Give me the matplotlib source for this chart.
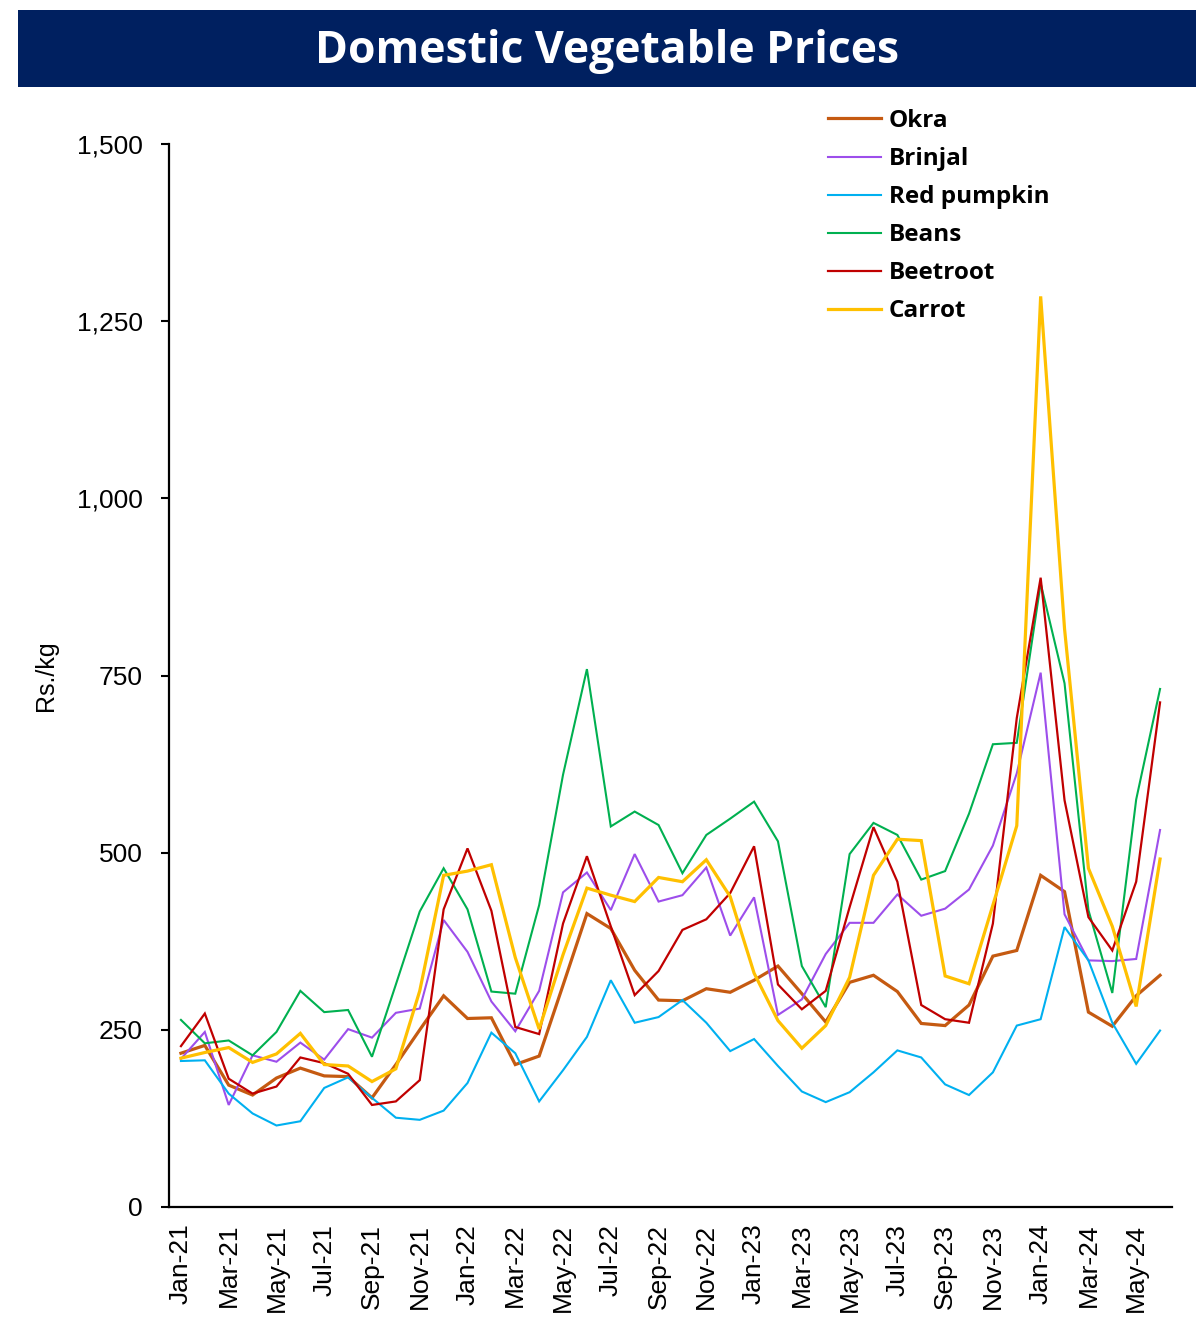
import matplotlib
matplotlib.use("Agg")
import matplotlib.pyplot as plt
from matplotlib.patches import Rectangle
from matplotlib.ticker import FuncFormatter

months = ["Jan-21", "Feb-21", "Mar-21", "Apr-21", "May-21", "Jun-21", "Jul-21", "Aug-21",
          "Sep-21", "Oct-21", "Nov-21", "Dec-21", "Jan-22", "Feb-22", "Mar-22", "Apr-22",
          "May-22", "Jun-22", "Jul-22", "Aug-22", "Sep-22", "Oct-22", "Nov-22", "Dec-22",
          "Jan-23", "Feb-23", "Mar-23", "Apr-23", "May-23", "Jun-23", "Jul-23", "Aug-23",
          "Sep-23", "Oct-23", "Nov-23", "Dec-23", "Jan-24", "Feb-24", "Mar-24", "Apr-24",
          "May-24", "Jun-24"]

okra = [217, 228, 172, 158, 182, 196, 185, 184, 154, 201, 250, 298, 266, 267, 201, 213,
        313, 414, 393, 334, 292, 291, 308, 303, 320, 340, 301, 261, 317, 327, 304, 259,
        256, 285, 354, 362, 468, 445, 275, 255, 298, 327]
brinjal = [209, 247, 144, 214, 205, 232, 208, 251, 239, 274, 280, 405, 360, 290, 248, 305,
           444, 472, 419, 498, 431, 440, 479, 383, 437, 271, 293, 357, 401, 401, 441, 411,
           421, 448, 510, 612, 754, 413, 348, 347, 350, 532]
red_pumpkin = [206, 207, 160, 132, 115, 121, 168, 183, 154, 126, 123, 136, 175, 246, 217, 149,
               193, 240, 320, 260, 268, 292, 260, 220, 237, 199, 163, 148, 162, 190, 221, 211,
               173, 158, 190, 256, 265, 395, 348, 260, 202, 249]
beans = [264, 231, 235, 214, 247, 305, 275, 278, 212, 314, 417, 478, 420, 304, 301, 426,
         610, 759, 537, 558, 539, 471, 525, 548, 572, 516, 340, 282, 498, 542, 525, 462,
         474, 555, 653, 655, 880, 739, 419, 302, 575, 731]
beetroot = [227, 273, 181, 160, 170, 211, 203, 188, 144, 149, 179, 420, 506, 418, 254, 244,
            400, 495, 396, 299, 333, 391, 406, 443, 509, 314, 279, 305, 423, 536, 459, 285,
            265, 260, 400, 690, 888, 574, 409, 362, 459, 712]
carrot = [210, 218, 225, 204, 216, 245, 201, 199, 177, 195, 305, 468, 474, 483, 352, 251,
          356, 450, 440, 431, 465, 459, 490, 438, 330, 263, 224, 256, 324, 468, 519, 517,
          326, 315, 426, 538, 1285, 816, 478, 396, 283, 491]

series_names = ["Okra", "Brinjal", "Red pumpkin", "Beans", "Beetroot", "Carrot"]
series_values = [okra, brinjal, red_pumpkin, beans, beetroot, carrot]
colors = ["#C55A11", "#9D4EEB", "#00B0F0", "#00B050", "#C00000", "#FFC000"]
widths = [2.3, 1.5, 1.5, 1.5, 1.6, 2.3]

y_ticks = [0, 250, 500, 750, 1000, 1250, 1500]

W, H = 1196, 1329
fig = plt.figure(figsize=(W / 100, H / 100), dpi=100)

# title banner
fig.patches.append(Rectangle((18 / W, 1 - 87 / H), 1 - 18 / W, 77 / H,
                             transform=fig.transFigure, facecolor="#002060",
                             edgecolor="none", zorder=0))
fig.text(607 / W, 1 - 51 / H, "Domestic Vegetable Prices", color="white",
         fontsize=32, fontweight="bold", family="Open Sans", ha="center", va="center")

ax = fig.add_axes([169 / W, 1 - 1207 / H, (1172 - 169) / W, (1207 - 144) / H])
x = list(range(len(months)))
for name, vals, c, lw in zip(series_names, series_values, colors, widths):
    ax.plot(x, vals, color=c, lw=lw, label=name, solid_joinstyle="miter")

ax.set_xlim(-0.5, len(months) - 0.5)
ax.set_ylim(0, 1500)
ax.set_yticks(y_ticks)
ax.yaxis.set_major_formatter(FuncFormatter(lambda v, p: f"{v:,.0f}"))
ax.set_xticks(x[::2])
ax.set_xticklabels(months[::2], rotation=90, fontsize=19, family="Liberation Sans")
for t in ax.get_yticklabels():
    t.set_fontsize(19)
    t.set_family("Liberation Sans")
ax.tick_params(axis="x", length=0, pad=12)
ax.tick_params(axis="y", length=6, width=1.5, pad=13, direction="out")
for s in ["top", "right"]:
    ax.spines[s].set_visible(False)
for s in ["left", "bottom"]:
    ax.spines[s].set_linewidth(1.6)
ax.set_ylabel("Rs./kg", fontsize=18, family="Liberation Sans")
ax.yaxis.set_label_coords(-0.111, 0.5)

leg = ax.legend(loc="upper left", bbox_to_anchor=(828 / W, 1 - 109 / H),
                bbox_transform=fig.transFigure, frameon=False, borderpad=0,
                borderaxespad=0, handlelength=2.2, handletextpad=0.3,
                labelspacing=0.58, prop={"family": "Open Sans", "weight": "bold", "size": 17.5})

fig.savefig("out.png", dpi=100)
